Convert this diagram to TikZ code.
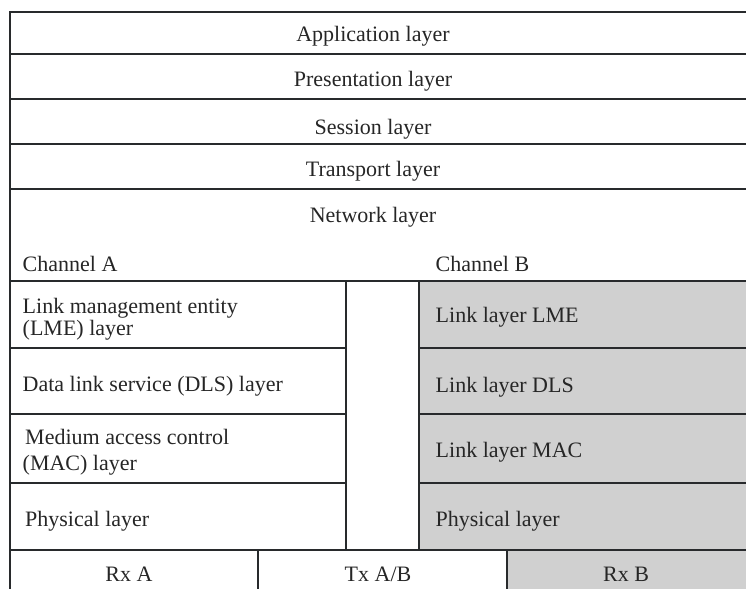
\documentclass[tikz,border=0pt]{standalone}
\usepackage{fontspec}
\setmainfont{Liberation Serif}
\definecolor{boxgray}{RGB}{208,208,208}
\definecolor{linecol}{RGB}{40,42,44}
\tikzset{
  rule/.style={draw=linecol, line width=2pt},
  txt/.style={inner sep=0pt, font=\fontsize{22}{23}\selectfont, text=black!85},
  lft/.style={txt, anchor=base west},
  ctr/.style={txt, anchor=base}
}
\begin{document}
\begin{tikzpicture}[x=1pt,y=-1pt]
\useasboundingbox (0,0) rectangle (746,589);
% gray regions
\fill[boxgray] (419,281) rectangle (746,550);
\fill[boxgray] (507,550) rectangle (746,589);
% horizontal rules across
\foreach \yy in {12,54,99,144,189,281,550}
  \draw[rule] (9.5,\yy) -- (746,\yy);
% left column rules
\foreach \yy in {347.5,414,483}
  \draw[rule] (9.5,\yy) -- (346,\yy);
% right column rules
\foreach \yy in {347.5,414,483}
  \draw[rule] (419,\yy) -- (746,\yy);
% verticals
\draw[rule] (9.5,11) -- (9.5,589);
\draw[rule] (346,281) -- (346,550);
\draw[rule] (419,281) -- (419,550);
\draw[rule] (258,550) -- (258,589);
\draw[rule] (507,550) -- (507,589);
% upper layers
\node[ctr] (app) at (373,41) {Application layer};
\node[ctr] (pres) at (373,86) {Presentation layer};
\node[ctr] (sess) at (373,134) {Session layer};
\node[ctr] (trans) at (373,176) {Transport layer};
\node[ctr] (net) at (373,222) {Network layer};
% channel labels
\node[lft] (cha) at (22.5,271) {Channel A};
\node[lft] (chb) at (435.5,271) {Channel B};
% channel A stack
\node[lft] (lme1) at (22.5,313) {Link management entity};
\node[lft] (lme2) at (22.5,335) {(LME) layer};
\node[lft] (dls) at (22.5,391) {Data link service (DLS) layer};
\node[lft] (mac1) at (25,444) {Medium access control};
\node[lft] (mac2) at (22.5,470) {(MAC) layer};
\node[lft] (phya) at (25,526) {Physical layer};
% channel B stack
\node[lft] (lmeb) at (435.5,322) {Link layer LME};
\node[lft] (dlsb) at (435.5,392) {Link layer DLS};
\node[lft] (macb) at (435.5,457) {Link layer MAC};
\node[lft] (phyb) at (435.5,526) {Physical layer};
% bottom row
\node[ctr] (rxa) at (129,581) {Rx A};
\node[ctr] (txab) at (378,581) {Tx A/B};
\node[ctr] (rxb) at (626,581) {Rx B};
\end{tikzpicture}
\end{document}
